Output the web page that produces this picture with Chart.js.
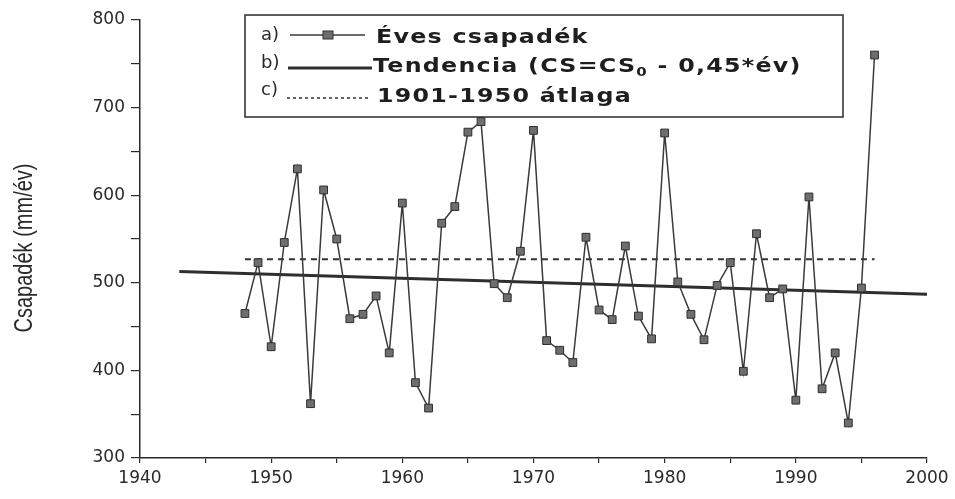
<!DOCTYPE html>
<html>
<head>
<meta charset="utf-8">
<script src="https://cdn.jsdelivr.net/npm/chart.js@4.4.1/dist/chart.umd.min.js"></script>
<style>
  html, body { margin: 0; padding: 0; background: #fff; }
  #wrap { width: 955px; height: 499px; }
</style>
</head>
<body>
<div id="wrap"><canvas id="csapadek_grafikon"></canvas></div>
<script>
// évek és éves csapadék (mm/év)
const evek = [1948, 1949, 1950, 1951, 1952, 1953, 1954, 1955, 1956, 1957,
  1958, 1959, 1960, 1961, 1962, 1963, 1964, 1965, 1966, 1967,
  1968, 1969, 1970, 1971, 1972, 1973, 1974, 1975, 1976, 1977,
  1978, 1979, 1980, 1981, 1982, 1983, 1984, 1985, 1986, 1987,
  1988, 1989, 1990, 1991, 1992, 1993, 1994, 1995, 1996];
const csapadek = [465, 523, 427, 546, 630, 362, 606, 550, 459, 464,
  485, 420, 591, 386, 357, 568, 587, 672, 684, 499,
  483, 536, 674, 434, 423, 409, 552, 469, 458, 542,
  462, 436, 671, 501, 464, 435, 497, 523, 399, 556,
  483, 493, 366, 598, 379, 420, 340, 494, 760];

// tendencia vonal (két végpont)
const tendenciaEvek = [1943, 2000];
const tendenciaErtek = [513, 487];

// 1901-1950 átlaga
const atlagEvek = [1948, 1996];
const atlagErtek = [527, 527];

const xFeliratok = [1940, 1950, 1960, 1970, 1980, 1990, 2000];
const yFeliratok = [300, 400, 500, 600, 700, 800];

const sorok = ["Éves csapadék", "Tendencia (CS=CS", "1901-1950 átlaga"];

const pontok = (xs, ys) => xs.map((x, i) => ({ x: x, y: ys[i] }));

// széthúzott szöveg (a szkennelt ábra betűi szélesek)
function szeles(ctx, txt, x, y, sx) {
  ctx.save();
  ctx.scale(sx, 1);
  ctx.fillText(txt, x / sx, y);
  const w = ctx.measureText(txt).width * sx;
  ctx.restore();
  return w;
}

// jelmagyarázat + tengelycím, kézzel rajzolva
const jelmagyarazat = {
  id: 'jelmagyarazat',
  afterDraw(chart) {
    const ctx = chart.ctx;
    const ds = chart.data.datasets;
    ctx.save();

    // y tengely címe
    ctx.fillStyle = '#2a2a2a';
    ctx.font = '25px "Liberation Sans", sans-serif';
    ctx.textAlign = 'center';
    ctx.textBaseline = 'middle';
    ctx.translate(25, 248);
    ctx.rotate(-Math.PI / 2);
    ctx.scale(0.8, 1);
    ctx.fillText('Csapadék (mm/év)', 0, 0);
    ctx.setTransform(1, 0, 0, 1, 0, 0);

    // keret
    ctx.strokeStyle = '#2a2a2a';
    ctx.lineWidth = 1.5;
    ctx.strokeRect(245, 15, 598, 102);

    // betűjelek
    ctx.font = '18px "DejaVu Sans", sans-serif';
    ctx.textAlign = 'left';
    ctx.fillStyle = '#2a2a2a';
    ctx.fillText('a)', 261, 35);
    ctx.fillText('b)', 261, 63);
    ctx.fillText('c)', 261, 90);

    // a) minta
    ctx.strokeStyle = ds[0].borderColor;
    ctx.lineWidth = ds[0].borderWidth;
    ctx.beginPath();
    ctx.moveTo(290, 35); ctx.lineTo(365, 35);
    ctx.stroke();
    ctx.fillStyle = ds[0].pointBackgroundColor;
    ctx.fillRect(323, 31, 10, 8);
    ctx.strokeStyle = ds[0].pointBorderColor;
    ctx.lineWidth = 1;
    ctx.strokeRect(323, 31, 10, 8);

    // b) minta
    ctx.strokeStyle = ds[1].borderColor;
    ctx.lineWidth = ds[1].borderWidth;
    ctx.beginPath();
    ctx.moveTo(288, 68); ctx.lineTo(372, 68);
    ctx.stroke();

    // c) minta
    ctx.strokeStyle = ds[2].borderColor;
    ctx.lineWidth = 1.5;
    ctx.setLineDash([3, 3]);
    ctx.beginPath();
    ctx.moveTo(287, 98); ctx.lineTo(368, 98);
    ctx.stroke();
    ctx.setLineDash([]);

    // szövegek
    const sx = 1.25;
    ctx.fillStyle = '#1e1e1e';
    ctx.font = 'bold 19px "DejaVu Sans", sans-serif';
    ctx.letterSpacing = '1px';
    szeles(ctx, sorok[0], 376, 38, sx);
    const w = szeles(ctx, sorok[1], 373, 67, sx);
    ctx.font = 'bold 12px "DejaVu Sans", sans-serif';
    const w2 = szeles(ctx, '0', 373 + w, 73, sx);
    ctx.font = 'bold 19px "DejaVu Sans", sans-serif';
    szeles(ctx, ' - 0,45*év)', 373 + w + w2, 67, sx);
    szeles(ctx, sorok[2], 377, 97, sx);
    ctx.restore();
  }
};

const config = {
  type: 'line',
  data: {
    datasets: [
      {
        label: sorok[0],
        data: pontok(evek, csapadek),
        borderColor: '#3a3a3a',
        borderWidth: 1.5,
        pointStyle: 'rect',
        pointRadius: 5.5,
        pointBackgroundColor: '#6e6e6e',
        pointBorderColor: '#2e2e2e',
        pointBorderWidth: 1,
        tension: 0
      },
      {
        label: 'Tendencia',
        data: pontok(tendenciaEvek, tendenciaErtek),
        borderColor: '#2e2e2e',
        borderWidth: 3,
        pointRadius: 0
      },
      {
        label: sorok[2],
        data: pontok(atlagEvek, atlagErtek),
        borderColor: '#333333',
        borderWidth: 2,
        borderDash: [6, 5],
        pointRadius: 0
      }
    ]
  },
  options: {
    responsive: true,
    maintainAspectRatio: false,
    animation: false,
    layout: { padding: { left: 0, right: 28, top: 20, bottom: 0 } },
    plugins: {
      legend: { display: false },
      tooltip: { enabled: false }
    },
    scales: {
      x: {
        type: 'linear',
        min: 1940,
        max: 2000,
        afterFit: (s) => { s.height = 41; },
        border: { display: true, color: '#2a2a2a', width: 1.5 },
        grid: { display: true, drawOnChartArea: false, drawTicks: true, tickLength: 5, color: '#2a2a2a', lineWidth: 1.2 },
        ticks: {
          stepSize: 5,
          autoSkip: false,
          maxRotation: 0,
          padding: 5,
          color: '#2a2a2a',
          font: { family: '"DejaVu Sans", sans-serif', size: 17 },
          callback: (v) => xFeliratok.includes(v) ? String(v) : ''
        }
      },
      y: {
        min: 300,
        max: 800,
        afterFit: (s) => { s.width = 140; },
        border: { display: true, color: '#2a2a2a', width: 1.5 },
        grid: { display: true, drawOnChartArea: false, drawTicks: true, tickLength: 9, color: '#2a2a2a', lineWidth: 1.2 },
        ticks: {
          stepSize: 50,
          autoSkip: false,
          padding: 6,
          color: '#2a2a2a',
          font: { family: '"DejaVu Sans", sans-serif', size: 17 },
          callback: (v) => yFeliratok.includes(v) ? String(v) : ''
        }
      }
    }
  },
  plugins: [jelmagyarazat]
};

const grafikon = new Chart(document.getElementById('csapadek_grafikon'), config);
</script>
</body>
</html>
